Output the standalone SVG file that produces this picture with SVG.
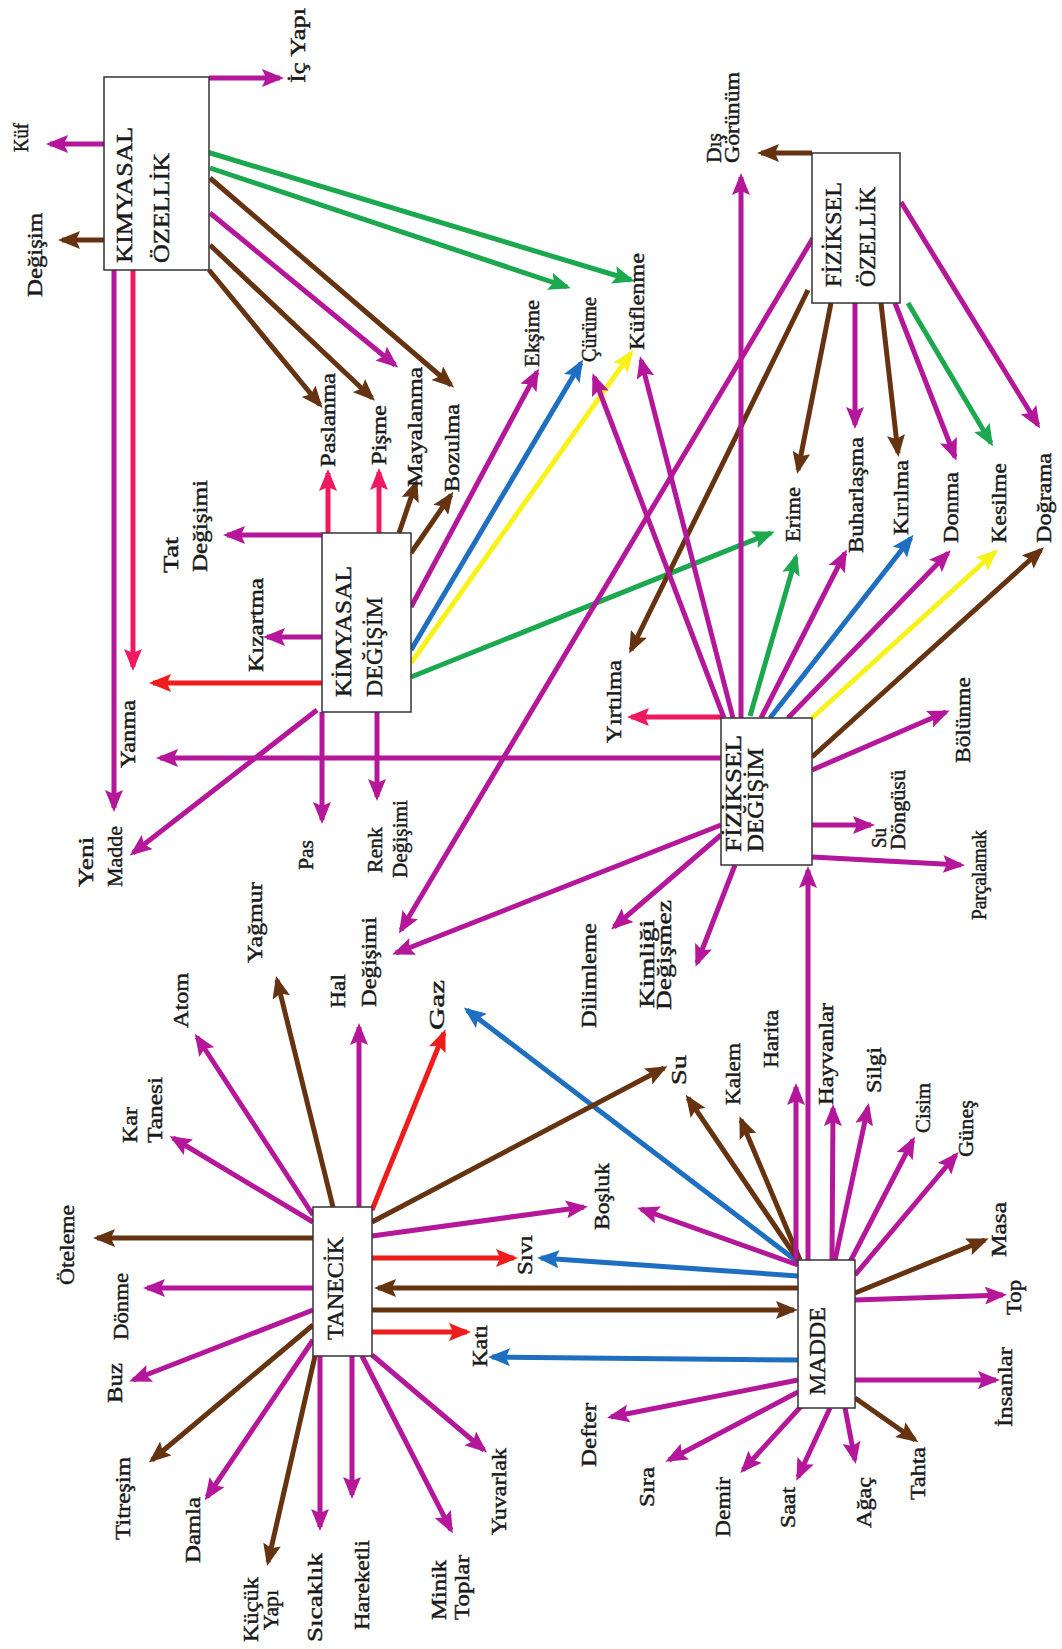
<svg xmlns="http://www.w3.org/2000/svg" width="1062" height="1649" viewBox="0 0 1062 1649">
<style>
.l{stroke-width:5;fill:none}
.m{stroke:#B5179A;marker-end:url(#am)}
.p{stroke:#F0185E;marker-end:url(#ap)}
.r{stroke:#EE1C1C;marker-end:url(#ar)}
.b{stroke:#663311;marker-end:url(#ab)}
.u{stroke:#1E6FC0;marker-end:url(#au)}
.g{stroke:#1BA84E;marker-end:url(#ag)}
.y{stroke:#F8F21A;marker-end:url(#ay)}
text{font-family:"Liberation Serif","Times New Roman",serif;fill:#1a1a1a;stroke:#1a1a1a;stroke-width:0.45}
.t{font-size:21px}
.n{font-size:24px}
.box{fill:#fff;stroke:#333;stroke-width:1.5}
</style>
<defs>
<marker id="am" viewBox="0 0 22 18" refX="18" refY="9" markerWidth="22" markerHeight="18" markerUnits="userSpaceOnUse" orient="auto"><path d="M0,0 L22,9 L0,18 L4,9 z" fill="#B5179A"/></marker>
<marker id="ap" viewBox="0 0 22 18" refX="18" refY="9" markerWidth="22" markerHeight="18" markerUnits="userSpaceOnUse" orient="auto"><path d="M0,0 L22,9 L0,18 L4,9 z" fill="#F0185E"/></marker>
<marker id="ar" viewBox="0 0 22 18" refX="18" refY="9" markerWidth="22" markerHeight="18" markerUnits="userSpaceOnUse" orient="auto"><path d="M0,0 L22,9 L0,18 L4,9 z" fill="#EE1C1C"/></marker>
<marker id="ab" viewBox="0 0 22 18" refX="18" refY="9" markerWidth="22" markerHeight="18" markerUnits="userSpaceOnUse" orient="auto"><path d="M0,0 L22,9 L0,18 L4,9 z" fill="#663311"/></marker>
<marker id="au" viewBox="0 0 22 18" refX="18" refY="9" markerWidth="22" markerHeight="18" markerUnits="userSpaceOnUse" orient="auto"><path d="M0,0 L22,9 L0,18 L4,9 z" fill="#1E6FC0"/></marker>
<marker id="ag" viewBox="0 0 22 18" refX="18" refY="9" markerWidth="22" markerHeight="18" markerUnits="userSpaceOnUse" orient="auto"><path d="M0,0 L22,9 L0,18 L4,9 z" fill="#1BA84E"/></marker>
<marker id="ay" viewBox="0 0 22 18" refX="18" refY="9" markerWidth="22" markerHeight="18" markerUnits="userSpaceOnUse" orient="auto"><path d="M0,0 L22,9 L0,18 L4,9 z" fill="#F8F21A"/></marker>
</defs>
<rect width="1062" height="1649" fill="#fff"/>
<g id="connectors" class="l">
<!-- KIMYASAL OZELLIK -->
<line class="l m" x1="104" y1="144" x2="50" y2="144"/>
<line class="l b" x1="104" y1="240" x2="62" y2="240"/>
<line class="l m" x1="209" y1="78" x2="280" y2="78"/>
<line class="l g" x1="207" y1="152" x2="631" y2="280"/>
<line class="l g" x1="210" y1="168" x2="567" y2="287"/>
<line class="l b" x1="210" y1="178" x2="451" y2="385"/>
<line class="l m" x1="210" y1="213" x2="395" y2="365"/>
<line class="l b" x1="210" y1="245" x2="372" y2="398"/>
<line class="l b" x1="209" y1="270" x2="320" y2="405"/>
<line class="l m" x1="114" y1="270" x2="114" y2="808"/>
<line class="l p" x1="133" y1="270" x2="133" y2="667"/>
<!-- KIMYASAL DEGISIM -->
<line class="l p" x1="328" y1="533" x2="328" y2="473"/>
<line class="l p" x1="379" y1="533" x2="379" y2="472"/>
<line class="l b" x1="399" y1="533" x2="416" y2="483"/>
<line class="l b" x1="411" y1="553" x2="451" y2="495"/>
<line class="l m" x1="322" y1="535" x2="227" y2="535"/>
<line class="l m" x1="322" y1="637" x2="267" y2="637"/>
<line class="l r" x1="322" y1="683" x2="153" y2="683"/>
<line class="l m" x1="317" y1="710" x2="133" y2="853"/>
<line class="l m" x1="322" y1="712" x2="322" y2="820"/>
<line class="l m" x1="377" y1="712" x2="377" y2="797"/>
<line class="l m" x1="411" y1="607" x2="537" y2="372"/>
<line class="l u" x1="411" y1="650" x2="581" y2="363"/>
<line class="l y" x1="411" y1="663" x2="631" y2="353"/>
<line class="l g" x1="411" y1="677" x2="771" y2="533"/>
<!-- FIZIKSEL OZELLIK -->
<line class="l b" x1="812" y1="153" x2="761" y2="153"/>
<line class="l m" x1="813" y1="238" x2="401" y2="930"/>
<line class="l b" x1="808" y1="290" x2="631" y2="650"/>
<line class="l b" x1="831" y1="303" x2="798" y2="470"/>
<line class="l m" x1="855" y1="303" x2="855" y2="425"/>
<line class="l b" x1="881" y1="303" x2="898" y2="453"/>
<line class="l m" x1="895" y1="303" x2="955" y2="457"/>
<line class="l g" x1="908" y1="303" x2="991" y2="443"/>
<line class="l m" x1="901" y1="202" x2="1038" y2="425"/>
<!-- FIZIKSEL DEGISIM -->
<line class="l p" x1="721" y1="717" x2="631" y2="717"/>
<line class="l m" x1="721" y1="758" x2="160" y2="758"/>
<line class="l m" x1="724" y1="718" x2="594" y2="377"/>
<line class="l m" x1="733" y1="718" x2="641" y2="360"/>
<line class="l m" x1="741" y1="718" x2="741" y2="177"/>
<line class="l g" x1="750" y1="716" x2="796" y2="557"/>
<line class="l m" x1="761" y1="718" x2="845" y2="553"/>
<line class="l u" x1="770" y1="718" x2="911" y2="538"/>
<line class="l m" x1="788" y1="718" x2="948" y2="553"/>
<line class="l y" x1="812" y1="718" x2="995" y2="552"/>
<line class="l b" x1="812" y1="757" x2="1041" y2="550"/>
<line class="l m" x1="812" y1="770" x2="946" y2="712"/>
<line class="l m" x1="812" y1="825" x2="871" y2="825"/>
<line class="l m" x1="812" y1="857" x2="961" y2="865"/>
<line class="l m" x1="721" y1="825" x2="396" y2="953"/>
<line class="l m" x1="721" y1="835" x2="614" y2="927"/>
<line class="l m" x1="735" y1="865" x2="697" y2="963"/>
<!-- MADDE -->
<line class="l m" x1="808" y1="1260" x2="808" y2="870"/>
<line class="l b" x1="798" y1="1288" x2="378" y2="1288"/>
<line class="l b" x1="372" y1="1310" x2="794" y2="1310"/>
<line class="l u" x1="798" y1="1276" x2="541" y2="1258"/>
<line class="l u" x1="798" y1="1360" x2="492" y2="1357"/>
<line class="l u" x1="798" y1="1262" x2="467" y2="1010"/>
<line class="l m" x1="798" y1="1265" x2="641" y2="1209"/>
<line class="l b" x1="798" y1="1260" x2="688" y2="1098"/>
<line class="l b" x1="800" y1="1260" x2="741" y2="1120"/>
<line class="l m" x1="796" y1="1260" x2="796" y2="1087"/>
<line class="l m" x1="832" y1="1260" x2="833" y2="1108"/>
<line class="l m" x1="835" y1="1260" x2="868" y2="1107"/>
<line class="l m" x1="850" y1="1262" x2="913" y2="1140"/>
<line class="l m" x1="855" y1="1275" x2="956" y2="1155"/>
<line class="l b" x1="855" y1="1293" x2="985" y2="1240"/>
<line class="l m" x1="855" y1="1300" x2="1003" y2="1295"/>
<line class="l m" x1="855" y1="1380" x2="996" y2="1380"/>
<line class="l b" x1="855" y1="1398" x2="915" y2="1440"/>
<line class="l m" x1="845" y1="1408" x2="855" y2="1460"/>
<line class="l m" x1="830" y1="1408" x2="798" y2="1477"/>
<line class="l m" x1="805" y1="1402" x2="743" y2="1470"/>
<line class="l m" x1="798" y1="1392" x2="669" y2="1460"/>
<line class="l m" x1="798" y1="1380" x2="611" y2="1417"/>
<!-- TANECIK -->
<line class="l b" x1="313" y1="1238" x2="97" y2="1238"/>
<line class="l m" x1="313" y1="1288" x2="147" y2="1288"/>
<line class="l m" x1="313" y1="1310" x2="133" y2="1380"/>
<line class="l b" x1="313" y1="1325" x2="152" y2="1460"/>
<line class="l m" x1="313" y1="1340" x2="207" y2="1497"/>
<line class="l b" x1="315" y1="1356" x2="268" y2="1562"/>
<line class="l m" x1="320" y1="1356" x2="320" y2="1527"/>
<line class="l m" x1="352" y1="1356" x2="352" y2="1495"/>
<line class="l m" x1="362" y1="1356" x2="451" y2="1530"/>
<line class="l m" x1="372" y1="1355" x2="484" y2="1450"/>
<line class="l m" x1="313" y1="1222" x2="173" y2="1138"/>
<line class="l m" x1="313" y1="1215" x2="197" y2="1037"/>
<line class="l b" x1="333" y1="1207" x2="277" y2="980"/>
<line class="l m" x1="359" y1="1207" x2="359" y2="1027"/>
<line class="l r" x1="372" y1="1210" x2="444" y2="1033"/>
<line class="l b" x1="372" y1="1222" x2="664" y2="1068"/>
<line class="l m" x1="372" y1="1236" x2="584" y2="1207"/>
<line class="l r" x1="372" y1="1258" x2="514" y2="1258"/>
<line class="l r" x1="372" y1="1332" x2="467" y2="1332"/>
</g>
<g id="kimyasal-ozellik"><rect class="box" x="104" y="77" width="105" height="193"/>
<text class="n" transform="translate(132,263) rotate(-90)" textLength="136" lengthAdjust="spacingAndGlyphs">KIMYASAL</text>
<text class="n" transform="translate(169,263) rotate(-90)" textLength="110" lengthAdjust="spacingAndGlyphs">ÖZELLİK</text></g>
<g id="kimyasal-degisim"><rect class="box" x="322" y="533" width="89" height="179"/>
<text class="n" transform="translate(351,697) rotate(-90)" textLength="131" lengthAdjust="spacingAndGlyphs">KİMYASAL</text>
<text class="n" transform="translate(382,697) rotate(-90)" textLength="100" lengthAdjust="spacingAndGlyphs">DEĞİŞİM</text></g>
<g id="fiziksel-ozellik"><rect class="box" x="812" y="153" width="88" height="150"/>
<text class="n" transform="translate(841,287) rotate(-90)" textLength="105" lengthAdjust="spacingAndGlyphs">FİZİKSEL</text>
<text class="n" transform="translate(875,287) rotate(-90)" textLength="100" lengthAdjust="spacingAndGlyphs">ÖZELLİK</text></g>
<g id="fiziksel-degisim"><rect class="box" x="721" y="718" width="91" height="147"/>
<text class="n" transform="translate(741,852) rotate(-90)" textLength="117" lengthAdjust="spacingAndGlyphs">FİZİKSEL</text>
<text class="n" transform="translate(763,852) rotate(-90)" textLength="104" lengthAdjust="spacingAndGlyphs">DEĞİŞİM</text></g>
<g id="tanecik"><rect class="box" x="313" y="1207" width="59" height="149"/>
<text class="n" transform="translate(343,1340) rotate(-90)" textLength="103" lengthAdjust="spacingAndGlyphs">TANECİK</text></g>
<g id="madde"><rect class="box" x="798" y="1260" width="57" height="148"/>
<text class="n" transform="translate(825,1395) rotate(-90)" textLength="88" lengthAdjust="spacingAndGlyphs">MADDE</text></g>
<g id="labels" class="t">
<g id="l-kuf"><text class="t" transform="translate(28,152) rotate(-90)" textLength="29" lengthAdjust="spacingAndGlyphs">Küf</text></g>
<g id="l-degisim"><text class="t" transform="translate(42,297) rotate(-90)" textLength="84" lengthAdjust="spacingAndGlyphs">Değişim</text></g>
<g id="l-icyapi"><text class="t" transform="translate(305,83) rotate(-90)" textLength="75" lengthAdjust="spacingAndGlyphs">İç Yapı</text></g>
<g id="l-paslanma"><text class="t" transform="translate(335,467) rotate(-90)" textLength="94" lengthAdjust="spacingAndGlyphs">Paslanma</text></g>
<g id="l-pisme"><text class="t" transform="translate(386,465) rotate(-90)" textLength="60" lengthAdjust="spacingAndGlyphs">Pişme</text></g>
<g id="l-mayalanma"><text class="t" transform="translate(422,487) rotate(-90)" textLength="120" lengthAdjust="spacingAndGlyphs">Mayalanma</text></g>
<g id="l-bozulma"><text class="t" transform="translate(459,492) rotate(-90)" textLength="88" lengthAdjust="spacingAndGlyphs">Bozulma</text></g>
<g id="l-eksime"><text class="t" transform="translate(539,367) rotate(-90)" textLength="67" lengthAdjust="spacingAndGlyphs">Ekşime</text></g>
<g id="l-curume"><text class="t" transform="translate(596,362) rotate(-90)" textLength="65" lengthAdjust="spacingAndGlyphs">Çürüme</text></g>
<g id="l-kuflenme"><text class="t" transform="translate(644,350) rotate(-90)" textLength="97" lengthAdjust="spacingAndGlyphs">Küflenme</text></g>
<g id="l-tat"><text class="t" transform="translate(178,573) rotate(-90)" textLength="36" lengthAdjust="spacingAndGlyphs">Tat</text>
<text class="t" transform="translate(207,572) rotate(-90)" textLength="92" lengthAdjust="spacingAndGlyphs">Değişimi</text></g>
<g id="l-kizartma"><text class="t" transform="translate(263,672) rotate(-90)" textLength="94" lengthAdjust="spacingAndGlyphs">Kızartma</text></g>
<g id="l-yanma"><text class="t" transform="translate(135,768) rotate(-90)" textLength="68" lengthAdjust="spacingAndGlyphs">Yanma</text></g>
<g id="l-yenimadde"><text class="t" transform="translate(93,887) rotate(-90)" textLength="50" lengthAdjust="spacingAndGlyphs">Yeni</text>
<text class="t" transform="translate(122,887) rotate(-90)" textLength="61" lengthAdjust="spacingAndGlyphs">Madde</text></g>
<g id="l-pas"><text class="t" transform="translate(313,870) rotate(-90)" textLength="30" lengthAdjust="spacingAndGlyphs">Pas</text></g>
<g id="l-renk"><text class="t" transform="translate(382,873) rotate(-90)" textLength="46" lengthAdjust="spacingAndGlyphs">Renk</text>
<text class="t" transform="translate(407,878) rotate(-90)" textLength="78" lengthAdjust="spacingAndGlyphs">Değişimi</text></g>
<g id="l-dis"><text class="t" transform="translate(721,163) rotate(-90)" textLength="30" lengthAdjust="spacingAndGlyphs">Dış</text>
<text class="t" transform="translate(739,163) rotate(-90)" textLength="91" lengthAdjust="spacingAndGlyphs">Görünüm</text></g>
<g id="l-yirtilma"><text class="t" transform="translate(621,743) rotate(-90)" textLength="83" lengthAdjust="spacingAndGlyphs">Yırtılma</text></g>
<g id="l-erime"><text class="t" transform="translate(800,542) rotate(-90)" textLength="55" lengthAdjust="spacingAndGlyphs">Erime</text></g>
<g id="l-buharlasma"><text class="t" transform="translate(863,553) rotate(-90)" textLength="116" lengthAdjust="spacingAndGlyphs">Buharlaşma</text></g>
<g id="l-kirilma"><text class="t" transform="translate(908,535) rotate(-90)" textLength="75" lengthAdjust="spacingAndGlyphs">Kırılma</text></g>
<g id="l-donma"><text class="t" transform="translate(958,543) rotate(-90)" textLength="71" lengthAdjust="spacingAndGlyphs">Donma</text></g>
<g id="l-kesilme"><text class="t" transform="translate(1006,543) rotate(-90)" textLength="80" lengthAdjust="spacingAndGlyphs">Kesilme</text></g>
<g id="l-dograma"><text class="t" transform="translate(1051,543) rotate(-90)" textLength="90" lengthAdjust="spacingAndGlyphs">Doğrama</text></g>
<g id="l-bolunme"><text class="t" transform="translate(970,763) rotate(-90)" textLength="86" lengthAdjust="spacingAndGlyphs">Bölünme</text></g>
<g id="l-sudongusu"><text class="t" transform="translate(886,848) rotate(-90)" textLength="20" lengthAdjust="spacingAndGlyphs">Su</text>
<text class="t" transform="translate(905,850) rotate(-90)" textLength="80" lengthAdjust="spacingAndGlyphs">Döngüsü</text></g>
<g id="l-parcalamak"><text class="t" transform="translate(986,920) rotate(-90)" textLength="90" lengthAdjust="spacingAndGlyphs">Parçalamak</text></g>
<g id="l-dilimleme"><text class="t" transform="translate(596,1028) rotate(-90)" textLength="105" lengthAdjust="spacingAndGlyphs">Dilimleme</text></g>
<g id="l-kimligi"><text class="t" transform="translate(654,1008) rotate(-90)" textLength="88" lengthAdjust="spacingAndGlyphs">Kimliği</text>
<text class="t" transform="translate(671,1010) rotate(-90)" textLength="110" lengthAdjust="spacingAndGlyphs">Değişmez</text></g>
<g id="l-hal"><text class="t" transform="translate(345,1008) rotate(-90)" textLength="34" lengthAdjust="spacingAndGlyphs">Hal</text>
<text class="t" transform="translate(376,1007) rotate(-90)" textLength="90" lengthAdjust="spacingAndGlyphs">Değişimi</text></g>
<g id="l-gaz"><text class="t" transform="translate(444,1030) rotate(-90)" textLength="50" lengthAdjust="spacingAndGlyphs">Gaz</text></g>
<g id="l-yagmur"><text class="t" transform="translate(262,963) rotate(-90)" textLength="81" lengthAdjust="spacingAndGlyphs">Yağmur</text></g>
<g id="l-atom"><text class="t" transform="translate(188,1028) rotate(-90)" textLength="55" lengthAdjust="spacingAndGlyphs">Atom</text></g>
<g id="l-kartanesi"><text class="t" transform="translate(137,1143) rotate(-90)" textLength="36" lengthAdjust="spacingAndGlyphs">Kar</text>
<text class="t" transform="translate(162,1143) rotate(-90)" textLength="66" lengthAdjust="spacingAndGlyphs">Tanesi</text></g>
<g id="l-oteleme"><text class="t" transform="translate(74,1285) rotate(-90)" textLength="80" lengthAdjust="spacingAndGlyphs">Öteleme</text></g>
<g id="l-donme"><text class="t" transform="translate(128,1340) rotate(-90)" textLength="67" lengthAdjust="spacingAndGlyphs">Dönme</text></g>
<g id="l-buz"><text class="t" transform="translate(122,1403) rotate(-90)" textLength="40" lengthAdjust="spacingAndGlyphs">Buz</text></g>
<g id="l-titresim"><text class="t" transform="translate(130,1540) rotate(-90)" textLength="83" lengthAdjust="spacingAndGlyphs">Titreşim</text></g>
<g id="l-damla"><text class="t" transform="translate(200,1563) rotate(-90)" textLength="66" lengthAdjust="spacingAndGlyphs">Damla</text></g>
<g id="l-kucukyapi"><text class="t" transform="translate(258,1642) rotate(-90)" textLength="65" lengthAdjust="spacingAndGlyphs">Küçük</text>
<text class="t" transform="translate(278,1630) rotate(-90)" textLength="40" lengthAdjust="spacingAndGlyphs">Yapı</text></g>
<g id="l-sicaklik"><text class="t" transform="translate(322,1642) rotate(-90)" textLength="89" lengthAdjust="spacingAndGlyphs">Sıcaklık</text></g>
<g id="l-hareketli"><text class="t" transform="translate(369,1630) rotate(-90)" textLength="90" lengthAdjust="spacingAndGlyphs">Hareketli</text></g>
<g id="l-miniktoplar"><text class="t" transform="translate(446,1620) rotate(-90)" textLength="60" lengthAdjust="spacingAndGlyphs">Minik</text>
<text class="t" transform="translate(469,1620) rotate(-90)" textLength="65" lengthAdjust="spacingAndGlyphs">Toplar</text></g>
<g id="l-yuvarlak"><text class="t" transform="translate(506,1535) rotate(-90)" textLength="87" lengthAdjust="spacingAndGlyphs">Yuvarlak</text></g>
<g id="l-kati"><text class="t" transform="translate(487,1367) rotate(-90)" textLength="42" lengthAdjust="spacingAndGlyphs">Katı</text></g>
<g id="l-sivi"><text class="t" transform="translate(532,1275) rotate(-90)" textLength="40" lengthAdjust="spacingAndGlyphs">Sıvı</text></g>
<g id="l-bosluk"><text class="t" transform="translate(609,1230) rotate(-90)" textLength="67" lengthAdjust="spacingAndGlyphs">Boşluk</text></g>
<g id="l-su"><text class="t" transform="translate(686,1085) rotate(-90)" textLength="30" lengthAdjust="spacingAndGlyphs">Su</text></g>
<g id="l-kalem"><text class="t" transform="translate(740,1105) rotate(-90)" textLength="62" lengthAdjust="spacingAndGlyphs">Kalem</text></g>
<g id="l-harita"><text class="t" transform="translate(778,1068) rotate(-90)" textLength="58" lengthAdjust="spacingAndGlyphs">Harita</text></g>
<g id="l-hayvanlar"><text class="t" transform="translate(833,1105) rotate(-90)" textLength="102" lengthAdjust="spacingAndGlyphs">Hayvanlar</text></g>
<g id="l-silgi"><text class="t" transform="translate(881,1093) rotate(-90)" textLength="46" lengthAdjust="spacingAndGlyphs">Silgi</text></g>
<g id="l-cisim"><text class="t" transform="translate(930,1133) rotate(-90)" textLength="50" lengthAdjust="spacingAndGlyphs">Cisim</text></g>
<g id="l-gunes"><text class="t" transform="translate(973,1157) rotate(-90)" textLength="57" lengthAdjust="spacingAndGlyphs">Güneş</text></g>
<g id="l-masa"><text class="t" transform="translate(1006,1257) rotate(-90)" textLength="55" lengthAdjust="spacingAndGlyphs">Masa</text></g>
<g id="l-top"><text class="t" transform="translate(1021,1315) rotate(-90)" textLength="35" lengthAdjust="spacingAndGlyphs">Top</text></g>
<g id="l-insanlar"><text class="t" transform="translate(1012,1427) rotate(-90)" textLength="80" lengthAdjust="spacingAndGlyphs">İnsanlar</text></g>
<g id="l-tahta"><text class="t" transform="translate(925,1500) rotate(-90)" textLength="53" lengthAdjust="spacingAndGlyphs">Tahta</text></g>
<g id="l-agac"><text class="t" transform="translate(871,1528) rotate(-90)" textLength="51" lengthAdjust="spacingAndGlyphs">Ağaç</text></g>
<g id="l-saat"><text class="t" transform="translate(795,1528) rotate(-90)" textLength="41" lengthAdjust="spacingAndGlyphs">Saat</text></g>
<g id="l-demir"><text class="t" transform="translate(730,1537) rotate(-90)" textLength="60" lengthAdjust="spacingAndGlyphs">Demir</text></g>
<g id="l-sira"><text class="t" transform="translate(654,1507) rotate(-90)" textLength="40" lengthAdjust="spacingAndGlyphs">Sıra</text></g>
<g id="l-defter"><text class="t" transform="translate(596,1467) rotate(-90)" textLength="64" lengthAdjust="spacingAndGlyphs">Defter</text></g>
</g>
</svg>
